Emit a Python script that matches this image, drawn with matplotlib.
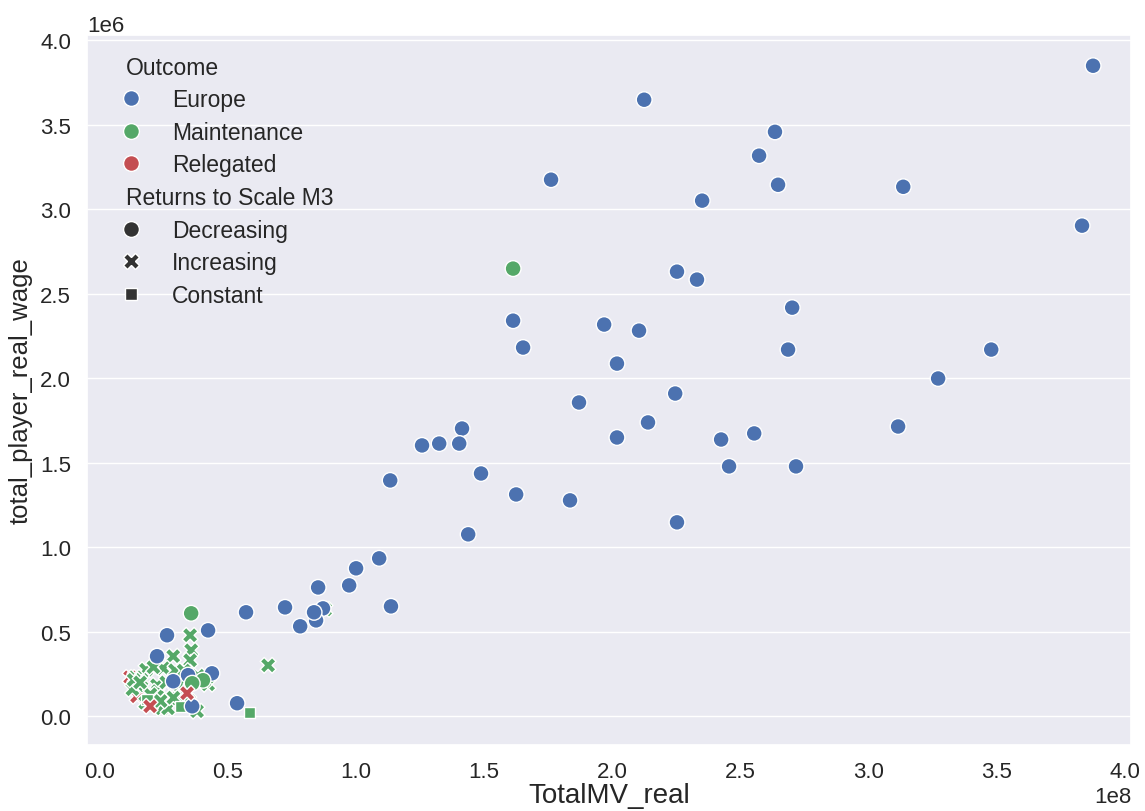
import matplotlib
matplotlib.use("Agg")
import matplotlib.pyplot as plt
import pandas as pd
import seaborn as sns

# Squad market value (x 1e8) and total real wage bill (x 1e6), grouped by
# season outcome and returns-to-scale class.
europe_dec_mv = [3.875, 3.832, 2.125, 2.635, 2.573, 1.762, 2.647, 3.135, 2.351,
                 2.253, 2.331, 1.614, 1.653, 1.969, 2.105, 2.019, 2.702, 2.686,
                 3.478, 3.271, 1.871, 2.246, 3.115, 2.140, 2.019, 2.425, 2.554,
                 2.456, 2.717, 1.415, 1.259, 1.326, 1.404, 1.489, 1.135, 1.626,
                 1.836, 2.253, 1.439, 1.092, 1.002, 0.975, 0.854, 0.873, 0.846,
                 0.838, 0.725, 0.784, 1.138, 0.573, 0.538, 0.425, 0.265, 0.226,
                 0.347, 0.289, 0.440, 0.363]
europe_dec_wage = [3.848, 2.902, 3.647, 3.457, 3.316, 3.174, 3.144, 3.132, 3.050,
                   2.630, 2.583, 2.340, 2.181, 2.317, 2.281, 2.086, 2.417, 2.169,
                   2.169, 1.998, 1.856, 1.909, 1.714, 1.738, 1.649, 1.637, 1.673,
                   1.478, 1.478, 1.702, 1.602, 1.613, 1.613, 1.436, 1.395, 1.312,
                   1.277, 1.147, 1.076, 0.934, 0.875, 0.774, 0.762, 0.638, 0.567,
                   0.615, 0.644, 0.532, 0.650, 0.615, 0.077, 0.508, 0.479, 0.355,
                   0.243, 0.207, 0.254, 0.059]

maint_inc_mv = [0.881, 0.355, 0.359, 0.355, 0.289, 0.183, 0.250, 0.152, 0.226,
                0.230, 0.226, 0.246, 0.269, 0.382, 0.308, 0.425, 0.659, 0.296,
                0.140, 0.130, 0.165, 0.200, 0.262, 0.312, 0.330, 0.385, 0.410,
                0.240, 0.290, 0.350, 0.180, 0.212, 0.135, 0.160]
maint_inc_wage = [0.632, 0.479, 0.390, 0.331, 0.355, 0.275, 0.284, 0.183, 0.183,
                  0.148, 0.118, 0.047, 0.047, 0.030, 0.106, 0.189, 0.301, 0.272,
                  0.230, 0.160, 0.215, 0.130, 0.200, 0.190, 0.270, 0.240, 0.210,
                  0.090, 0.110, 0.090, 0.080, 0.290, 0.215, 0.200]

maint_const_mv = [0.585, 0.316, 0.187]
maint_const_wage = [0.024, 0.059, 0.100]

maint_dec_mv = [1.614, 0.359, 0.405, 0.363]
maint_dec_wage = [2.648, 0.609, 0.213, 0.195]

# Relegated sides: the first two lie beneath the crowd of small clubs.
releg_inc_under_mv = [0.121, 0.148]
releg_inc_under_wage = [0.230, 0.118]
releg_inc_mv = [0.343, 0.199]
releg_inc_wage = [0.136, 0.059]

outcome_order = ["Europe", "Maintenance", "Relegated"]
outcome_colors = {"Europe": "#4C72B0", "Maintenance": "#55A868",
                  "Relegated": "#C44E52"}
rts_order = ["Decreasing", "Increasing", "Constant"]
legend_subtitles = ["Outcome", "Returns to Scale M3"]

groups = [
    ("Relegated", "Increasing", releg_inc_under_mv, releg_inc_under_wage),
    ("Maintenance", "Increasing", maint_inc_mv, maint_inc_wage),
    ("Maintenance", "Constant", maint_const_mv, maint_const_wage),
    ("Europe", "Decreasing", europe_dec_mv, europe_dec_wage),
    ("Maintenance", "Decreasing", maint_dec_mv, maint_dec_wage),
    ("Relegated", "Increasing", releg_inc_mv, releg_inc_wage),
]

frames = []
for outcome, rts, mv, wage in groups:
    frames.append(pd.DataFrame({
        "TotalMV_real": [v * 1e8 for v in mv],
        "total_player_real_wage": [w * 1e6 for w in wage],
        "Outcome": outcome,
        "Returns to Scale M3": rts,
    }))
df = pd.concat(frames, ignore_index=True)

sns.set_theme(style="darkgrid")
plt.rcParams["font.family"] = ["Liberation Sans", "DejaVu Sans"]
plt.rcParams.update({
    "xtick.labelsize": 16,
    "ytick.labelsize": 16,
    "axes.labelsize": 20,
    "legend.fontsize": 16.5,
    "legend.title_fontsize": 16.5,
    "legend.frameon": False,
    "legend.labelspacing": 0.42,
    "xtick.major.pad": 5.5,
    "ytick.major.pad": 5.5,
    "text.color": "#262626",
    "axes.labelcolor": "#262626",
    "xtick.color": "#262626",
    "ytick.color": "#262626",
})

fig = plt.figure(figsize=(11.45, 8.12), dpi=100)
ax = fig.add_axes([0.076, 0.0813, 0.9118, 0.8744])

sns.scatterplot(data=df, x="TotalMV_real", y="total_player_real_wage",
                hue="Outcome", style="Returns to Scale M3",
                hue_order=outcome_order, style_order=rts_order,
                palette=outcome_colors, s=130, linewidth=1,
                edgecolor="white", ax=ax)

ax.set_xlim(-4.7e6, 4.023e8)
ax.set_ylim(-0.17e6, 4.03e6)
ax.grid(axis="x", visible=False)
ax.set_xlabel("TotalMV_real", labelpad=0)
ax.set_ylabel("total_player_real_wage", labelpad=5, fontsize=18.5)

leg = ax.get_legend()
leg.set_loc("upper left")
# Section headings in the legend sit flush left, without a handle slot.
for row in leg.findobj(matplotlib.offsetbox.VPacker)[0].get_children():
    draw_area, text_area = row.get_children()
    texts = [t.get_text() for t in text_area.get_children()]
    if any(t in legend_subtitles for t in texts):
        draw_area.set_width(0)

fig.savefig("out.png", dpi=100)
